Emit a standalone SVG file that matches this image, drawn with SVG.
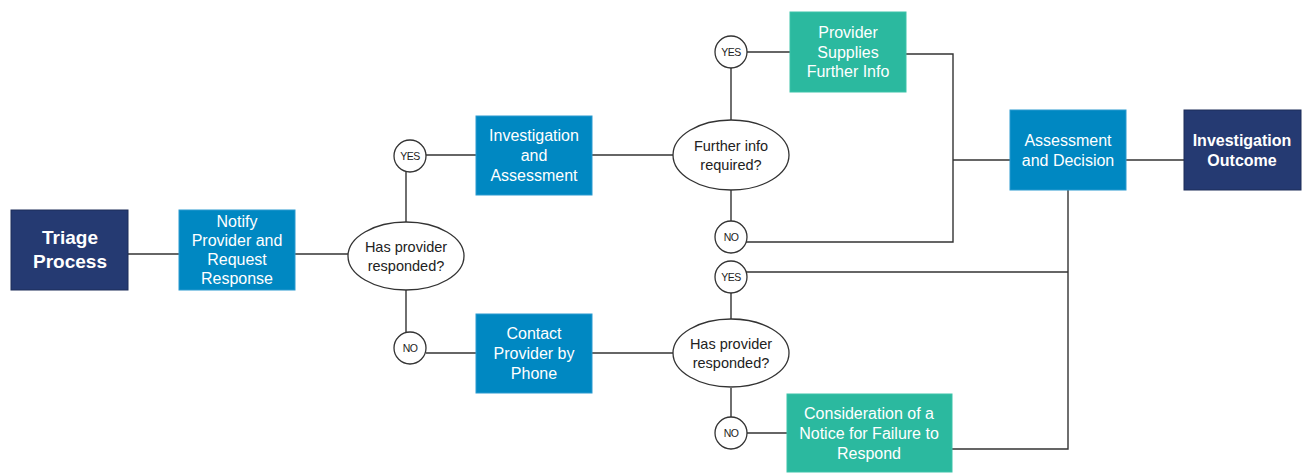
<svg xmlns="http://www.w3.org/2000/svg" width="1309" height="473" viewBox="0 0 1309 473">
<style>
.navy{fill:#253a72;stroke:#1c2d59;stroke-width:1}
.blue{fill:#0088c2;stroke:#2a9ad0;stroke-width:1}
.teal{fill:#2bb99f;stroke:#3cc3a9;stroke-width:1}
.dec{fill:#fff;stroke:#333;stroke-width:1.3}
.lbl{fill:#fff;stroke:#333;stroke-width:1.3}
.bt{font-family:"Liberation Sans",Arial,sans-serif;font-size:16px;fill:#fff;text-anchor:middle}
.bb{font-family:"Liberation Sans",Arial,sans-serif;font-weight:bold;fill:#fff;text-anchor:middle}
.et{font-family:"Liberation Sans",Arial,sans-serif;font-size:14.5px;fill:#222;text-anchor:middle}
.st{font-family:"Liberation Sans",Arial,sans-serif;font-size:10.5px;fill:#222;text-anchor:middle;letter-spacing:-0.5px}
.conn{fill:none;stroke:#333;stroke-width:1.4}
</style>
<rect width="1309" height="473" fill="#fff"/>
<g id="connectors" class="conn">
<line x1="128" y1="254" x2="179" y2="254"/>
<line x1="295" y1="254" x2="348" y2="254"/>
<line x1="406" y1="157" x2="406" y2="222"/>
<line x1="426" y1="155" x2="476" y2="155"/>
<line x1="592" y1="155" x2="673" y2="155"/>
<line x1="731" y1="52" x2="731" y2="121"/>
<line x1="747" y1="52" x2="790" y2="52"/>
<polyline points="906,54 953,54 953,242 731,242"/>
<line x1="731" y1="190" x2="731" y2="237"/>
<line x1="953" y1="160" x2="1010" y2="160"/>
<line x1="1126" y1="160" x2="1184" y2="160"/>
<polyline points="1068,190 1068,449 952,449"/>
<line x1="1068" y1="272" x2="731" y2="272"/>
<line x1="731" y1="277" x2="731" y2="320"/>
<line x1="731" y1="388" x2="731" y2="433"/>
<line x1="747" y1="433" x2="787" y2="433"/>
<line x1="406" y1="290" x2="406" y2="348"/>
<line x1="426" y1="353" x2="476" y2="353"/>
<line x1="592" y1="353" x2="673" y2="353"/>
</g>
<g id="triage">
<rect class="navy" x="11" y="210" width="117" height="80"/>
<text class="bb" font-size="19" x="70" y="244">Triage</text>
<text class="bb" font-size="19" x="70" y="268">Process</text>
</g>
<g id="notify">
<rect class="blue" x="179" y="210" width="116" height="80"/>
<text class="bt" x="237" y="227">Notify</text>
<text class="bt" x="237" y="246">Provider and</text>
<text class="bt" x="237" y="265">Request</text>
<text class="bt" x="237" y="284">Response</text>
</g>
<g id="decision1">
<ellipse class="dec" cx="406" cy="256" rx="58" ry="34"/>
<text class="et" x="406" y="252">Has provider</text>
<text class="et" x="406" y="271">responded?</text>
</g>
<g id="yes1">
<circle class="lbl" cx="410" cy="156" r="16"/>
<text class="st" x="410" y="160">YES</text>
</g>
<g id="no1">
<circle class="lbl" cx="410" cy="348" r="16"/>
<text class="st" x="410" y="352">NO</text>
</g>
<g id="investigation">
<rect class="blue" x="476" y="116" width="116" height="79"/>
<text class="bt" x="534" y="141">Investigation</text>
<text class="bt" x="534" y="161">and</text>
<text class="bt" x="534" y="181">Assessment</text>
</g>
<g id="contact">
<rect class="blue" x="476" y="314" width="116" height="79"/>
<text class="bt" x="534" y="339">Contact</text>
<text class="bt" x="534" y="359">Provider by</text>
<text class="bt" x="534" y="379">Phone</text>
</g>
<g id="decision2">
<ellipse class="dec" cx="731" cy="155" rx="58" ry="35"/>
<text class="et" x="731" y="151">Further info</text>
<text class="et" x="731" y="170">required?</text>
</g>
<g id="decision3">
<ellipse class="dec" cx="731" cy="353" rx="58" ry="34"/>
<text class="et" x="731" y="349">Has provider</text>
<text class="et" x="731" y="368">responded?</text>
</g>
<g id="yes2">
<circle class="lbl" cx="731" cy="52" r="16"/>
<text class="st" x="731" y="56">YES</text>
</g>
<g id="no2">
<circle class="lbl" cx="731" cy="237" r="16"/>
<text class="st" x="731" y="241">NO</text>
</g>
<g id="yes3">
<circle class="lbl" cx="731" cy="277" r="16"/>
<text class="st" x="731" y="281">YES</text>
</g>
<g id="no3">
<circle class="lbl" cx="731" cy="433" r="16"/>
<text class="st" x="731" y="437">NO</text>
</g>
<g id="supplies">
<rect class="teal" x="790" y="12" width="116" height="80"/>
<text class="bt" x="848" y="38">Provider</text>
<text class="bt" x="848" y="58">Supplies</text>
<text class="bt" x="848" y="77">Further Info</text>
</g>
<g id="consideration">
<rect class="teal" x="787" y="394" width="165" height="78"/>
<text class="bt" x="869" y="419">Consideration of a</text>
<text class="bt" x="869" y="439">Notice for Failure to</text>
<text class="bt" x="869" y="459">Respond</text>
</g>
<g id="assessment">
<rect class="blue" x="1010" y="110" width="116" height="80"/>
<text class="bt" x="1068" y="146">Assessment</text>
<text class="bt" x="1068" y="166">and Decision</text>
</g>
<g id="outcome">
<rect class="navy" x="1184" y="110" width="117" height="80"/>
<text class="bb" font-size="16" x="1242" y="146">Investigation</text>
<text class="bb" font-size="16" x="1242" y="166">Outcome</text>
</g>
</svg>
